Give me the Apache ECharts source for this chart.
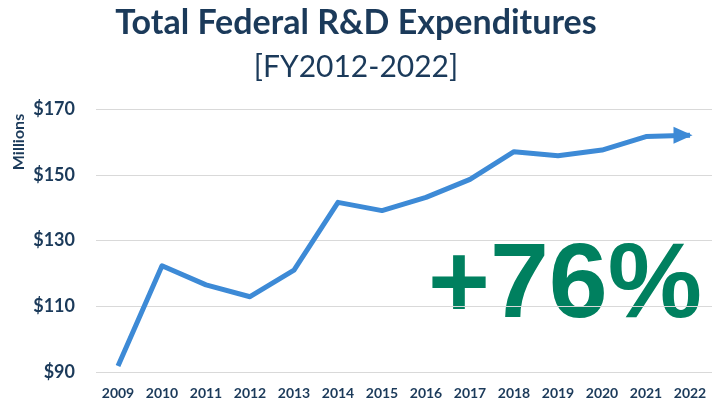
<!DOCTYPE html>
<html>
<head>
<meta charset="utf-8">
<script src="https://cdn.jsdelivr.net/npm/echarts@6/dist/echarts.min.js"></script>
<style>
  html, body { margin: 0; padding: 0; background: #fff; }
  #main { width: 712px; height: 402px; }
</style>
</head>
<body>
<div id="main"></div>
<script>
// data
var years = ['2009', '2010', '2011', '2012', '2013', '2014', '2015',
             '2016', '2017', '2018', '2019', '2020', '2021', '2022'];
var spending = [91.8, 122.3, 116.5, 112.9, 121.0, 141.6, 139.1,
                143.1, 148.6, 157.0, 155.8, 157.5, 161.6, 162.0];
var yMin = 90, yMax = 170, yStep = 20;

var navy = '#1b3a5a';

// last point gets the arrow head
var lineData = spending.map(function (v, i) {
    if (i === spending.length - 1) {
        return {
            value: v,
            symbol: 'triangle',
            symbolSize: [17, 19],
            symbolRotate: -90,
            symbolOffset: [-7, 0]
        };
    }
    return v;
});

var chart = echarts.init(document.getElementById('main'));
var option = {
    animation: false,
    backgroundColor: '#fff',
    title: [{
        text: 'Total Federal R&D Expenditures',
        left: 'center',
        top: 1,
        textStyle: { fontFamily: 'Lato', fontWeight: 'bold', fontSize: 34, color: navy }
    }, {
        text: '[FY2012-2022]',
        left: 'center',
        top: 47,
        textStyle: { fontFamily: 'Lato', fontWeight: 'normal', fontSize: 30, color: navy }
    }],
    grid: { left: 96, width: 622, top: 109, height: 263 },
    xAxis: {
        type: 'category',
        data: years,
        boundaryGap: true,
        axisLine: { show: false },
        axisTick: { show: false },
        axisLabel: { margin: 14, fontFamily: 'Lato', fontWeight: 'bold', fontSize: 14, color: navy }
    },
    yAxis: {
        type: 'value',
        min: yMin,
        max: yMax,
        interval: yStep,
        axisLine: { show: false },
        axisTick: { show: false },
        splitLine: { lineStyle: { color: '#d9d9d9', width: 1 } },
        axisLabel: {
            margin: 21,
            fontFamily: 'Lato', fontWeight: 'bold', fontSize: 18, color: navy,
            formatter: function (v) { return '$' + v; }
        }
    },
    series: [{
        type: 'line',
        data: lineData,
        symbol: 'none',
        itemStyle: { color: '#3d8ad6' },
        lineStyle: { color: '#3d8ad6', width: 5, cap: 'butt', join: 'round' }
    }],
    graphic: [{
        type: 'text',
        x: 19,
        y: 142,
        rotation: Math.PI / 2,
        style: {
            text: 'Millions',
            font: 'bold 16px Lato',
            fill: navy,
            align: 'center',
            verticalAlign: 'middle'
        }
    }, {
        type: 'text',
        x: 428,
        y: 288,
        style: {
            text: '+76%',
            font: 'bold 106px "Liberation Sans"',
            fill: '#00805f',
            align: 'left',
            verticalAlign: 'middle'
        }
    }]
};
chart.setOption(option);
</script>
</body>
</html>
